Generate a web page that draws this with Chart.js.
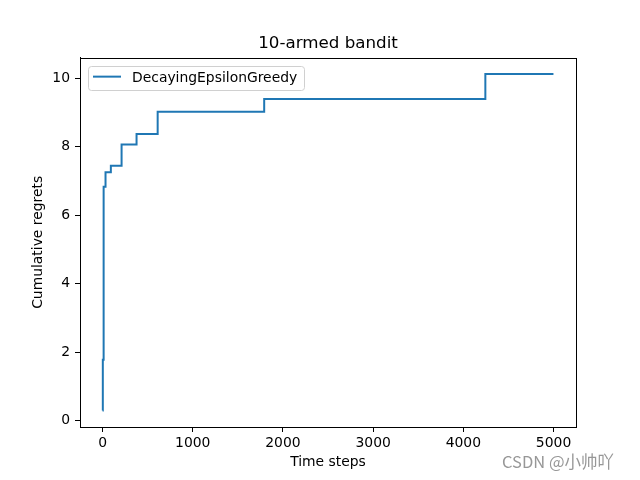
<!DOCTYPE html>
<html>
<head>
<meta charset="utf-8">
<script src="https://cdn.jsdelivr.net/npm/chart.js@4/dist/chart.umd.min.js"></script>
<style>
    html, body { margin: 0; padding: 0; background: #fff; }
    #wrap { width: 640px; height: 480px; }
</style>
</head>
<body>
<div id="wrap"><canvas id="myChart" width="640" height="480"></canvas></div>
<script>
// time step at which regret jumps, and cumulative regret right after the jump
var steps = [0, 3, 12, 33, 92, 211, 377, 611, 1792, 4244, 4999];
var regrets = [0.30, 1.78, 6.83, 7.25, 7.44, 8.06, 8.37, 9.02, 9.39, 10.12, 10.12];
var xTicks = [0, 1000, 2000, 3000, 4000, 5000];
var yTicks = [0, 2, 4, 6, 8, 10];
var seriesName = 'DecayingEpsilonGreedy';

var mplFont = "'DejaVu Sans', sans-serif";

// matplotlib-like frame, legend box (upper left) and watermark
var framePlugin = {
    id: 'frame',
    afterDraw: function (chart) {
        var ctx = chart.ctx;
        var a = chart.chartArea;
        ctx.save();
        ctx.strokeStyle = '#000';
        ctx.lineWidth = 1;
        ctx.strokeRect(Math.round(a.left) + 0.5, Math.round(a.top) + 0.5,
            Math.round(a.right - a.left), Math.round(a.bottom - a.top));

        // legend
        var ds = chart.data.datasets[0];
        ctx.font = "13.9px " + mplFont;
        var tw = ctx.measureText(ds.label).width;
        var bx = a.left + 7.5, by = a.top + 8;
        var bw = 44.5 + tw + 6.5, bh = 24;
        ctx.fillStyle = 'rgba(255,255,255,0.8)';
        ctx.strokeStyle = '#d0d0d0';
        ctx.beginPath();
        ctx.roundRect(Math.round(bx) + 0.5, Math.round(by) + 0.5, Math.round(bw), bh, 3);
        ctx.fill();
        ctx.stroke();
        ctx.strokeStyle = ds.borderColor;
        ctx.lineWidth = ds.borderWidth;
        ctx.beginPath();
        ctx.moveTo(bx + 5.5, by + 11);
        ctx.lineTo(bx + 33.5, by + 11);
        ctx.stroke();
        ctx.fillStyle = '#000';
        ctx.textAlign = 'left';
        ctx.textBaseline = 'alphabetic';
        ctx.fillText(ds.label, bx + 44.5, by + 16);

        ctx.fillStyle = 'rgba(140,140,140,0.9)';
        ctx.font = "16.5px 'Noto Sans CJK SC', sans-serif";
        ctx.fillText('CSDN @小帅吖', 502, 468);
        ctx.restore();
    }
};

var ctx = document.getElementById('myChart').getContext('2d');

new Chart(ctx, {
    type: 'line',
    data: {
        datasets: [{
            label: seriesName,
            data: steps.map(function (t, i) { return { x: t, y: regrets[i] }; }),
            borderColor: '#1f77b4',
            backgroundColor: '#1f77b4',
            borderWidth: 2,
            pointRadius: 0,
            stepped: 'before',
            fill: false,
        }],
    },
    options: {
        responsive: false,
        animation: false,
        layout: {
            padding: { left: 0, right: 64, top: 0, bottom: 0 }
        },
        plugins: {
            title: {
                display: true,
                fullSize: false,
                text: '10-armed bandit',
                color: '#000',
                font: { family: mplFont, size: 16.7, weight: 'normal', lineHeight: 1.2 },
                padding: { top: 34, bottom: 3.6 },
            },
            legend: { display: false },
            tooltip: { enabled: false },
        },
        scales: {
            x: {
                type: 'linear',
                min: -250,
                max: 5249,
                afterBuildTicks: function (scale) {
                    scale.ticks = xTicks.map(function (v) { return { value: v }; });
                },
                afterFit: function (scale) { scale.height = 53; },
                grid: { display: true, drawOnChartArea: false, drawTicks: true, tickLength: 5, color: '#000' },
                border: { display: true, color: '#000', width: 1 },
                ticks: {
                    color: '#000',
                    font: { family: mplFont, size: 13.9 },
                    padding: 3,
                    maxRotation: 0,
                    callback: function (v) { return v; },
                },
                title: {
                    display: true,
                    text: 'Time steps',
                    color: '#000',
                    font: { family: mplFont, size: 13.9, lineHeight: 1.2 },
                    padding: { top: 0, bottom: 9 },
                },
            },
            y: {
                type: 'linear',
                min: -0.18,
                max: 10.595,
                afterBuildTicks: function (scale) {
                    scale.ticks = yTicks.map(function (v) { return { value: v }; });
                },
                afterFit: function (scale) { scale.width = 80; },
                grid: { display: true, drawOnChartArea: false, drawTicks: true, tickLength: 5, color: '#000' },
                border: { display: true, color: '#000', width: 1 },
                ticks: {
                    color: '#000',
                    font: { family: mplFont, size: 13.9 },
                    padding: 5,
                    callback: function (v) { return v; },
                },
                title: {
                    display: true,
                    text: 'Cumulative regrets',
                    color: '#000',
                    font: { family: mplFont, size: 13.9, lineHeight: 1.2 },
                    padding: { top: 30, bottom: 0 },
                },
            },
        },
    },
    plugins: [framePlugin],
});
</script>
</body>
</html>
